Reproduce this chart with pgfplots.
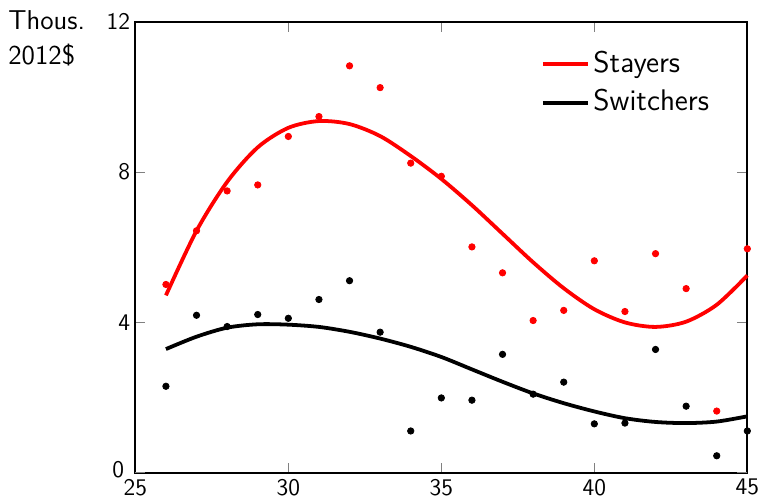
\documentclass[border=0pt]{standalone}
\usepackage{fontspec}
\usepackage{pgfplots}
\pgfplotsset{compat=1.18}
\renewcommand{\familydefault}{\sfdefault}
\begin{document}
\begin{tikzpicture}
\begin{axis}[
  scale only axis,
  width=307.5pt, height=226.5pt,
  xmin=25, xmax=45, ymin=0, ymax=12,
  xtick={25,30,35,40,45}, ytick={4,8,12},
  extra y ticks={0},
  extra y tick style={yticklabel style={yshift=1.5pt, xshift=-3pt}},
  /pgf/number format/assume math mode=true,
  ticklabel style={font=\sffamily\fontsize{12}{14}\selectfont},
  xticklabel style={inner sep=3pt},
  yticklabel style={inner sep=2.5pt},
  tick style={gray, line width=0.6pt},
  major tick length=5pt,
  tick align=inside,
  axis line style={line width=1pt},
  legend style={draw=none, fill=none, at={(1,1)}, anchor=north east, xshift=-14pt, yshift=-10pt,
    font=\sffamily\fontsize{15}{17}\selectfont, row sep=1.5pt,
    nodes={text height=11pt, text depth=3pt, inner sep=2pt}},
  legend cell align=left,
  legend image code/.code={\draw[line width=1.9pt] (0cm,0cm) -- (22.5pt,0cm);},
  clip=false,
]
\addplot[red, line width=1.9pt, smooth] coordinates {
(26,4.72) (27,6.44) (28,7.74) (29,8.66) (30,9.18) (31,9.36) (32,9.28) (33,8.96) (34,8.43) (35,7.82)
(36,7.12) (37,6.36) (38,5.60) (39,4.91) (40,4.35) (41,4.00) (42,3.88) (43,4.02) (44,4.47) (45,5.25)};
\addlegendentry{Stayers}
\addplot[black, line width=1.9pt, smooth] coordinates {
(26,3.29) (27,3.62) (28,3.86) (29,3.95) (30,3.94) (31,3.88) (32,3.75) (33,3.57) (34,3.35) (35,3.08)
(36,2.75) (37,2.42) (38,2.11) (39,1.85) (40,1.63) (41,1.45) (42,1.35) (43,1.32) (44,1.36) (45,1.50)};
\addlegendentry{Switchers}
\addplot[red, only marks, mark=*, mark size=1.6pt, forget plot] coordinates {
(26,5.01) (27,6.44) (28,7.50) (29,7.66) (30,8.95) (31,9.48) (32,10.83) (33,10.25) (34,8.24) (35,7.89)
(36,6.01) (37,5.32) (38,4.05) (39,4.32) (40,5.64) (41,4.29) (42,5.83) (43,4.90) (44,1.64) (45,5.96)};
\addplot[black, only marks, mark=*, mark size=1.6pt, forget plot] coordinates {
(26,2.30) (27,4.19) (28,3.89) (29,4.21) (30,4.11) (31,4.61) (32,5.11) (33,3.74) (34,1.11) (35,1.99)
(36,1.93) (37,3.15) (38,2.09) (39,2.41) (40,1.30) (41,1.32) (42,3.28) (43,1.77) (44,0.45) (45,1.11)};
\node[anchor=north west, align=left, font=\sffamily\fontsize{13.7}{17.5}\selectfont, inner sep=0pt]
  at ([xshift=-64pt, yshift=6pt]rel axis cs:0,1) {Thous.\\2012\$};
\path ([xshift=-68pt, yshift=11pt]rel axis cs:0,1) (rel axis cs:0,1);
\path ([xshift=7pt, yshift=-13.5pt]rel axis cs:1,0) (rel axis cs:1,0);
\end{axis}
\end{tikzpicture}
\end{document}
